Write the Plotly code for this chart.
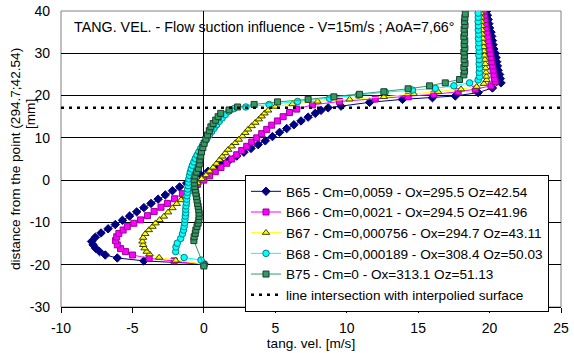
import plotly.graph_objects as go

# ---- data (tang. vel. [m/s], distance [mm]) ----
B65 = [(0.0,-19.8),(-4.2,-19.1),(-6.06,-18.4),(-6.9,-17.7),(-7.3,-16.9),(-7.58,-16.1),(-7.75,-15.3),(-7.86,-14.5),
       (-7.6,-13.5),(-7.2,-12.5),(-6.7,-11.5),(-6.2,-10.5),(-5.7,-9.5),(-5.2,-8.5),(-4.7,-7.5),(-4.2,-6.5),(-3.7,-5.5),
       (-3.2,-4.5),(-2.7,-3.5),(-2.2,-2.5),(-1.7,-1.6),(-1.2,-0.7),(-0.7,0.3),(-0.2,1.2),(0.3,2.1),(0.8,3.0),(1.3,3.9),
       (1.8,4.8),(2.3,5.7),(2.8,6.6),(3.3,7.5),(3.8,8.4),(4.3,9.3),(4.8,10.3),(5.3,11.3),(5.8,12.2),(6.3,13.1),(6.8,14.0),
       (7.3,14.9),(7.8,15.8),(8.2,16.5),(8.7,17.1),(9.6,17.5),(11.6,18.4),(13.9,19.1),(16.0,19.5),(17.6,19.9),(19.2,20.7),
       (20.2,21.8),(20.8,23.0),(20.75,24),(20.7,25),(20.6,26),(20.55,27),(20.5,28),(20.45,29),(20.4,30),(20.3,31),(20.25,32),
       (20.2,33),(20.15,34),(20.1,35),(20.0,36),(19.95,37),(19.9,38),(19.85,39),(19.8,40)]

B66 = [(0.0,-19.9),(-2.08,-19.1),(-3.83,-18.5),(-5.0,-17.7),(-5.48,-16.9),(-5.83,-16.2),(-6.06,-15.3),(-6.18,-14.3),
       (-6.1,-13.4),(-5.95,-12.6),(-5.65,-11.8),(-5.36,-11.0),(-4.9,-10.2),(-4.43,-9.4),(-3.95,-8.4),(-3.48,-7.4),(-3.0,-6.4),
       (-2.55,-5.5),(-2.05,-4.4),(-1.5,-3.2),(-0.95,-2.1),(-0.45,-1.0),(0.0,0.0),(0.4,1.0),(0.8,2.0),(1.2,3.0),(1.6,4.0),
       (1.95,5.0),(2.3,6.0),(2.65,7.0),(3.0,8.0),(3.35,9.0),(3.7,10.0),(4.05,11.0),(4.4,12.0),(4.75,13.0),(5.15,14.0),
       (5.55,15.0),(6.0,16.0),(6.5,16.8),(7.6,17.8),(9.5,18.6),(12.0,19.2),(14.3,19.7),(16.1,20.3),(17.8,20.9),(19.0,21.5),
       (20.1,22.3),(20.4,23.3),(20.35,24),(20.3,25),(20.25,26),(20.2,27),(20.15,28),(20.1,29),(20.05,30),(20.0,31),
       (19.95,32),(19.9,33),(19.85,34),(19.8,35),(19.75,36),(19.7,37),(19.68,38),(19.64,39),(19.6,40)]

B67 = [(0.0,-19.9),(-1.97,-19.0),(-3.13,-18.3),(-3.8,-17.5),(-4.0,-16.9),(-4.15,-16.1),(-4.25,-15.3),(-4.3,-14.5),
       (-4.25,-13.6),(-4.1,-12.7),(-3.85,-11.8),(-3.6,-11.0),(-3.38,-10.2),(-3.1,-9.4),(-2.8,-8.6),(-2.5,-7.6),(-2.2,-6.6),
       (-1.9,-5.6),(-1.6,-4.7),(-1.3,-3.7),(-1.0,-2.7),(-0.72,-1.7),(-0.44,-0.7),(-0.15,0.3),(0.15,1.2),(0.4,2.1),(0.65,3.0),
       (0.88,3.9),(1.1,4.8),(1.3,5.6),(1.5,6.4),(1.7,7.2),(1.95,8.0),(2.2,8.8),(2.45,9.6),(2.7,10.4),(2.9,11.2),(3.1,12.0),
       (3.35,12.8),(3.6,13.6),(3.85,14.4),(4.05,15.1),(4.25,15.8),(4.5,16.5),(5.0,17.4),(6.2,18.0),(7.96,18.6),(10.2,19.1),
       (12.6,19.7),(14.7,20.4),(16.4,20.9),(18.0,21.5),(19.1,22.1),(19.6,22.8),(19.8,23.7),(19.78,24.5),(19.75,25.5),
       (19.72,26.5),(19.7,27.5),(19.67,28.5),(19.64,29.5),(19.61,30.5),(19.58,31.5),(19.55,32.5),(19.53,33.5),(19.5,34.5),
       (19.48,35.5),(19.46,36.5),(19.44,37.5),(19.42,38.5),(19.4,39.5)]

B68 = [(0.0,-20.1),(-0.2,-18.9),(-1.38,-18.3),(-1.97,-16.9),(-1.95,-15.8),(-1.86,-14.9),(-1.62,-13.8),(-1.5,-12.7),
       (-1.42,-11.8),(-1.38,-11.0),(-1.34,-10.1),(-1.32,-9.3),(-1.3,-8.5),(-1.27,-7.7),(-1.27,-6.9),(-1.25,-6.1),(-1.22,-5.3),
       (-1.2,-4.5),(-1.18,-3.7),(-1.15,-2.9),(-1.13,-2.1),(-1.1,-1.3),(-1.08,-0.5),(-1.05,0.3),(-1.0,1.1),(-0.95,1.9),
       (-0.88,2.7),(-0.8,3.5),(-0.7,4.3),(-0.6,5.1),(-0.48,5.9),(-0.35,6.7),(-0.22,7.5),(-0.08,8.3),(0.07,9.1),(0.22,9.9),
       (0.38,10.7),(0.55,11.5),(0.72,12.3),(0.9,13.1),(1.08,13.9),(1.28,14.7),(1.5,15.5),(1.75,16.3),(2.1,16.9),(2.94,17.3),
       (4.57,17.9),(6.56,18.6),(8.8,19.3),(10.8,20.1),(12.7,20.8),(14.6,21.3),(16.2,21.7),(17.5,22.3),(18.6,23.0),(19.2,23.7),
       (19.3,24.5),(19.28,25.5),(19.3,26.5),(19.27,27.5),(19.28,28.5),(19.25,29.5),(19.27,30.5),(19.24,31.5),(19.25,32.5),
       (19.22,33.5),(19.24,34.5),(19.21,35.5),(19.22,36.5),(19.2,37.5),(19.21,38.5),(19.2,39.5)]

B75 = [(0.0,-20.3),(-0.7,-14.3),(-0.68,-13.4),(-0.6,-12.6),(-0.56,-11.8),(-0.48,-11.0),(-0.4,-10.2),(-0.35,-9.4),
       (-0.33,-8.6),(-0.33,-7.8),(-0.36,-7.0),(-0.4,-6.2),(-0.44,-5.5),(-0.48,-4.7),(-0.52,-3.9),(-0.56,-3.1),(-0.6,-2.3),
       (-0.64,-1.5),(-0.66,-0.7),(-0.68,0.1),(-0.62,1.0),(-0.5,1.9),(-0.38,2.8),(-0.32,3.8),(-0.28,4.8),(-0.22,5.7),
       (-0.16,6.7),(-0.07,7.7),(0.02,8.7),(0.14,9.7),(0.26,10.7),(0.38,11.7),(0.49,12.6),(0.65,13.4),(0.83,14.2),(1.0,15.0),
       (1.18,15.8),(1.77,16.6),(2.36,17.3),(3.52,17.9),(5.16,18.5),(7.3,19.1),(9.1,19.7),(10.9,20.3),(12.6,20.9),(14.3,21.6),
       (15.8,22.3),(16.9,23.0),(17.9,23.8),(18.2,24.9),(18.25,25.8),(18.2,26.7),(18.28,27.6),(18.22,28.5),(18.25,29.4),
       (18.2,30.3),(18.27,31.2),(18.22,32.1),(18.26,33.0),(18.2,33.9),(18.25,34.8),(18.22,35.7),(18.28,36.6),(18.24,37.5),
       (18.27,38.4),(18.3,39.3)]

INTERSECTION_Y = 17.1
X_RANGE = [-10, 25]
Y_RANGE = [-30, 40]
X_TICKS = [-10, -5, 0, 5, 10, 15, 20, 25]
X_TICKTEXT = ["-10", "-5", "0", "5", "10", "15", "20", "25"]
Y_TICKS = [-30, -20, -10, 0, 10, 20, 30, 40]
Y_TICKTEXT = ["-30", "-20", "-10", "0", "10", "20", "30", "40"]

NAMES = ["B65 - Cm=0,0059 - Ox=295.5 Oz=42.54",
         "B66 - Cm=0,0021 - Ox=294.5 Oz=41.96",
         "B67 - Cm=0,000756 - Ox=294.7 Oz=43.11",
         "B68 - Cm=0,000189 - Ox=308.4 Oz=50.03",
         "B75 - Cm=0 - Ox=313.1 Oz=51.13"]
LINE_NAME = "line intersection with interpolied surface"
TITLE = "TANG. VEL. - Flow suction influence - V=15m/s ; AoA=7,66°"
Y_TITLE_1 = "distance from the point (294.7;42.54)"
Y_TITLE_2 = "[mm]"
X_TITLE = "tang. vel. [m/s]"

FONT = "Liberation Sans, Arial, sans-serif"
styles = [
    dict(line="#000080", fill="#000080", edge="#000080", symbol="diamond", size=6.5),
    dict(line="#FF00FF", fill="#FF00FF", edge="#990099", symbol="square", size=6),
    dict(line="#FFFF00", fill="#FFFF00", edge="#404000", symbol="triangle-up", size=6.5),
    dict(line="#00FFFF", fill="#00FFFF", edge="#008080", symbol="circle", size=6.5),
    dict(line="#339966", fill="#339966", edge="#1a3d2a", symbol="square", size=6),
]

fig = go.Figure()
for series, name, st in zip([B65, B66, B67, B68, B75], NAMES, styles):
    xs = [p[0] for p in series]
    ys = [p[1] for p in series]
    fig.add_trace(go.Scatter(
        x=xs, y=ys, name=name, mode="lines+markers",
        line=dict(color=st["line"], width=1),
        marker=dict(symbol=st["symbol"], size=st["size"], color=st["fill"],
                    line=dict(color=st["edge"], width=1)),
    ))

fig.add_trace(go.Scatter(
    x=X_RANGE, y=[INTERSECTION_Y, INTERSECTION_Y], name=LINE_NAME, mode="lines",
    line=dict(color="black", width=2.5, dash="3px,5px"),
))

fig.add_annotation(text=TITLE, xref="paper", yref="paper", x=0.022, y=0.946,
                   xanchor="left", yanchor="middle", showarrow=False,
                   font=dict(family=FONT, size=14.3, color="black"))

# y-axis title lines (rotated)
fig.add_annotation(text=Y_TITLE_1, xref="paper", yref="paper", x=-0.092, y=0.5,
                   xanchor="center", yanchor="middle", showarrow=False, textangle=-90,
                   font=dict(family=FONT, size=13.6, color="black"))
fig.add_annotation(text=Y_TITLE_2, xref="paper", yref="paper", x=-0.062, y=0.652,
                   xanchor="center", yanchor="middle", showarrow=False, textangle=-90,
                   font=dict(family=FONT, size=13.6, color="black"))

fig.add_shape(type="rect", xref="paper", yref="paper", x0=0, x1=1, y0=0, y1=1,
              line=dict(color="#808080", width=1), layer="below")

fig.update_layout(
    width=574, height=353,
    margin=dict(l=61, r=13, t=11, b=46, autoexpand=False),
    paper_bgcolor="white", plot_bgcolor="white",
    font=dict(family=FONT, size=14, color="black"),
    showlegend=True,
    legend=dict(x=0.368, y=0.446, xanchor="left", yanchor="top",
                bgcolor="white", bordercolor="black", borderwidth=1,
                font=dict(family=FONT, size=13.6), itemwidth=30,
                tracegroupgap=0),
    xaxis=dict(range=X_RANGE, tickvals=X_TICKS, ticktext=X_TICKTEXT, showgrid=False,
               automargin=False,
               zeroline=True, zerolinecolor="black", zerolinewidth=1,
               showline=True, linecolor="black", linewidth=1,
               ticks="outside", ticklen=5, tickcolor="black",
               ticklabelstandoff=3, tickfont=dict(family=FONT, size=14),
               title=dict(text=X_TITLE, standoff=2,
                          font=dict(family=FONT, size=13.6))),
    yaxis=dict(range=Y_RANGE, tickvals=Y_TICKS, ticktext=Y_TICKTEXT,
               automargin=False, showgrid=True, gridcolor="black",
               gridwidth=1, zeroline=True, zerolinecolor="black", zerolinewidth=1,
               showline=False, ticks="", ticklabelstandoff=10,
               tickfont=dict(family=FONT, size=14)),
)

fig.write_html("out.html")
